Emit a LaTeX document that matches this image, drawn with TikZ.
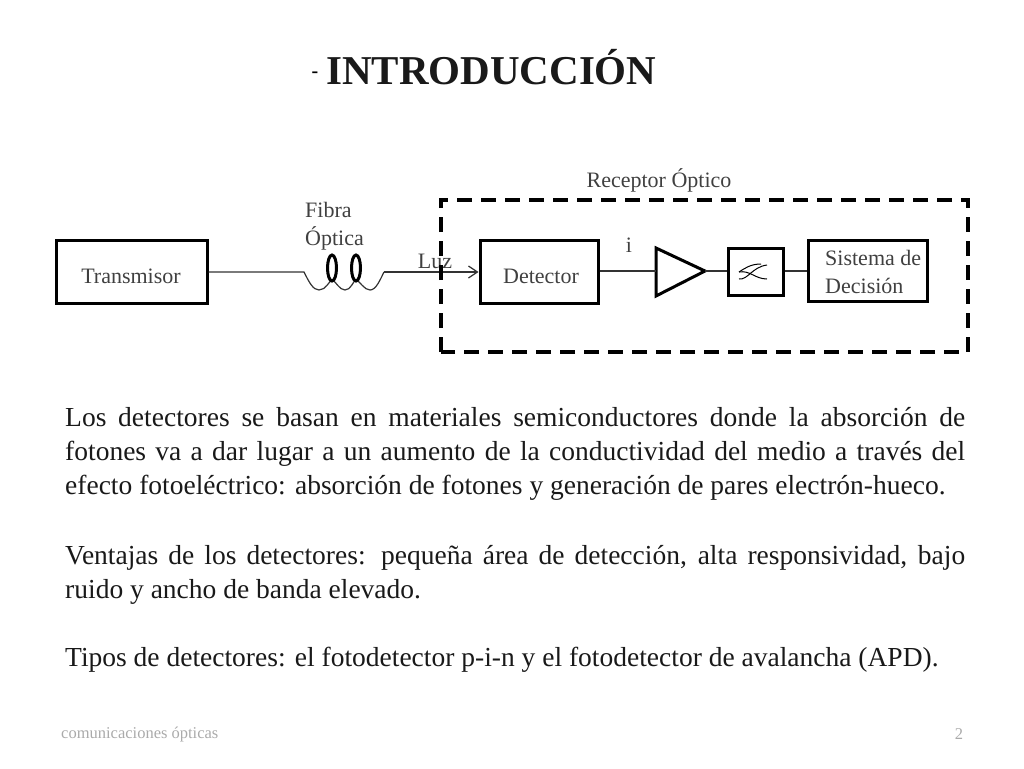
\documentclass[tikz,border=0pt]{standalone}
\usepackage{fontspec}
\setmainfont{Liberation Serif}
\usetikzlibrary{arrows.meta,calc}
\definecolor{txtgray}{RGB}{64,64,64}
\definecolor{footgray}{RGB}{170,170,170}
\tikzset{l/.style={font=\fontsize{22}{24}\selectfont, text=txtgray, inner sep=0pt}}
\tikzset{blk/.style={draw, line width=3pt, inner sep=0pt, anchor=north west}}
\tikzset{wire/.style={line width=1.2pt, draw=black!80}}
\tikzset{par/.style={font=\fontsize{27.5}{34}\selectfont, text=black!90, text width=900pt, align=justify, inner sep=0pt, anchor=north west}}
\tikzset{foot/.style={font=\fontsize{16.5}{16.5}\selectfont, text=footgray, inner sep=0pt}}

\begin{document}
\begin{tikzpicture}[x=1pt, y=-1pt]
  \useasboundingbox (0,0) rectangle (1024,768);
  \node [font=\fontsize{20}{20}\selectfont\bfseries, inner sep=0pt] (dash) at (315,75) {-};
  \node [font=\fontsize{41}{41}\selectfont\bfseries, inner sep=0pt, anchor=west, text=black!90] (title) at (326,67) {INTRODUCCIÓN};

  \node [l] (receptor) at (659,180) {Receptor Óptico};
  \node [l, align=left, anchor=north west] (fibra) at (305,202) {Fibra\\[4pt]Óptica};
  \node [l] (luz) at (435,261) {Luz};
  \node [l] (cur) at (629,245) {i};

  \node [blk, minimum width=151pt, minimum height=63pt] (tx) at (54.5,238.5) {};
  \node [l] (txlabel) at (131,276) {Transmisor};
  \node [blk, minimum width=118pt, minimum height=63pt] (det) at (478.5,238.5) {};
  \node [l] (detlabel) at (541,276) {Detector};
  \node [blk, minimum width=55pt, minimum height=47pt] (filt) at (726.5,246.5) {};
  \node [blk, minimum width=119pt, minimum height=61pt] (dec) at (806.5,239) {};
  \node [l, align=left, anchor=north west] (declabel) at (825,250) {Sistema de\\[4pt]Decisión};

  \coordinate (amp1) at (656,248);
  \coordinate (amp2) at (656,296);
  \coordinate (amp3) at (705,271);
  \draw [line width=3pt, line join=miter] (amp1) -- (amp3) -- (amp2) -- cycle;

  \coordinate (fa) at (304,272);
  \coordinate (fb) at (384,272);
  \draw [wire] (tx.east |- fa) -- (fa)
    .. controls (309,282) and (313,290) .. (319,290)
    .. controls (326,290) and (329,281) .. (332,280)
    .. controls (336,281) and (339,290) .. (345,290)
    .. controls (351,290) and (353,281) .. (356,280)
    .. controls (360,281) and (364,290) .. (370,290)
    .. controls (376,290) and (380,280) .. (fb);
  \draw [wire, -{Straight Barb[length=9pt,width=12pt]}] (fb) -- (det.west |- fb);
  \draw [line width=3pt] (332,268) ellipse (4.5pt and 13pt);
  \draw [line width=3pt] (356,268) ellipse (4.5pt and 13pt);

  \draw [wire] (det.east |- amp3) -- (amp3 -| amp1);
  \draw [wire] (amp3) -- (filt.west |- amp3);
  \draw [wire] (filt.east |- amp3) -- (dec.west |- amp3);

  \draw [line width=1pt] (739,279) .. controls (748,280) and (752,267) .. (767,265);
  \draw [line width=1pt] (739,272) .. controls (745,268) and (751,264) .. (761,264);
  \draw [line width=1pt] (739,272) .. controls (750,270) and (755,279) .. (767,279);

  \draw [line width=3.2pt, dash pattern=on 15pt off 9pt] (441,352) -- (441,200) -- (968,200) -- (968,352) -- cycle;

  \node [par] (p1) at (65,407.5) {Los detectores se basan en materiales semiconductores donde la absorción de\linebreak fotones va a dar lugar a un aumento de la conductividad del medio a través del\linebreak efecto fotoeléctrico: absorción de fotones y generación de pares electrón-hueco.};
  \node [par] (p2) at (65,545) {Ventajas de los detectores: pequeña área de detección, alta responsividad, bajo\linebreak ruido y ancho de banda elevado.};
  \node [par] (p3) at (65,647) {Tipos de detectores: el fotodetector p-i-n y el fotodetector de avalancha (APD).};

  \node [foot, anchor=west] (footl) at (61,735) {comunicaciones ópticas};
  \node [foot] (footr) at (959,734) {2};
\end{tikzpicture}
\end{document}
